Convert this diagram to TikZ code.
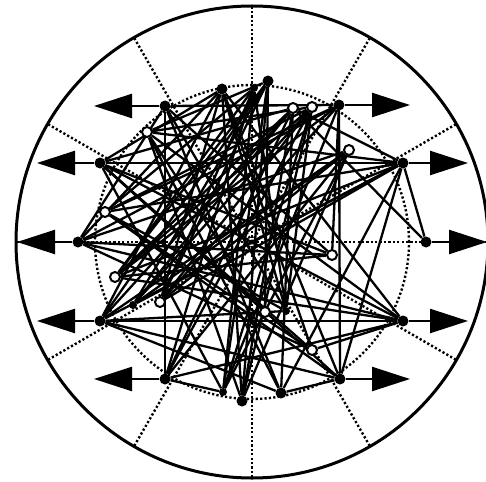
\documentclass[tikz,border=0pt]{standalone}
\usetikzlibrary{arrows.meta,backgrounds}
\begin{document}
\begin{tikzpicture}[x=1pt,y=-1pt,
  edge/.style={line width=2.3pt},
  dotl/.style={line width=2.4pt, dash pattern=on 2.2pt off 2.2pt},
  full/.style={circle, fill=black, inner sep=0pt, minimum size=11pt},
  small/.style={circle, fill=black, inner sep=0pt, minimum size=8pt},
  hollow/.style={circle, draw=black, fill=white, line width=2pt, inner sep=0pt, minimum size=10pt},
  arr/.style={line width=2.4pt, -{Triangle[length=38pt,width=24pt]}}]
\useasboundingbox (0,0) rectangle (486,481);
\coordinate (c) at (252,242);
% filled nodes
\node[full] (a1) at (165,106) {};
\node[full] (a2) at (100,163) {};
\node[full] (a3) at (78,242) {};
\node[full] (a4) at (100,321) {};
\node[full] (a5) at (165,379) {};
\node[full] (b1) at (339,105) {};
\node[full] (b2) at (403,163) {};
\node[full] (b3) at (426,242) {};
\node[full] (b4) at (403,321) {};
\node[full] (b5) at (340,379) {};
\node[full] (t1) at (222,89) {};
\node[full] (t2) at (268,81) {};
\node[small] (t3) at (254,88) {};
\node[small] (d1) at (223,392) {};
\node[full] (d2) at (242,401) {};
\node[full] (d3) at (281,393) {};
\node[small] (n1) at (133,305) {};
\node[small] (n2) at (286,311) {};
% hollow nodes
\node[hollow] (h1) at (147,132) {};
\node[hollow] (h2) at (105,212) {};
\node[hollow] (h3) at (293,108) {};
\node[hollow] (h4) at (312,107) {};
\node[hollow] (h5) at (349,150) {};
\node[hollow] (h6) at (115,277) {};
\node[hollow] (h7) at (160,302) {};
\node[hollow] (h8) at (332,255) {};
\node[hollow] (h9) at (312,350) {};
\node[hollow] (h10) at (265,312) {};
% arrow tips
\coordinate (ta1) at (94,106);
\coordinate (ta2) at (37,163);
\coordinate (ta3) at (17,242);
\coordinate (ta4) at (37,321);
\coordinate (ta5) at (94,379);
\coordinate (tb1) at (410,105);
\coordinate (tb2) at (468,163);
\coordinate (tb3) at (487,242);
\coordinate (tb4) at (468,321);
\coordinate (tb5) at (410,379);
\begin{pgfonlayer}{background}
\draw[line width=3pt] (c) circle (236pt);
\foreach \a in {0,30,...,330} \draw[dotl] (c) -- ++(\a:236pt);
\draw[dotl] (c) circle (157pt);
\foreach \u/\v in {a1/b1,a2/b2,a4/b4,a1/a5,b1/b5,
  b2/h3,b2/b3,b2/b5,b2/d3,b2/h7,b2/h6,b2/h2,
  b4/h1,b4/a2,b4/a3,b4/h6,b4/h9,b4/a5,
  b3/h3,b1/h8,a3/t1,a3/b1,a3/h5,a3/h9,a3/h8,
  a1/h8,a1/d3,a1/a3,t1/a4,t1/d2,t1/a2,
  h1/t2,h1/h4,h1/b2,a4/b2,a4/d3,a4/b5,
  a2/b5,a2/h3,t2/h10,h3/d3,a5/d1,d3/b5,
  h4/a5,h3/a5,t2/a4,t3/d1,t2/d1,h4/d2,h3/n1,t3/h6,h4/h7,h3/h6,
  h5/h7,h5/n1,h5/d1,h2/h4,h2/t3,h2/b5,h2/h9,
  h6/b1,h6/t2,h7/b1,n1/t2,n1/b2,h9/t1,
  h10/a2,h10/h1,d2/h5,d3/h1,b5/t1,h8/a2,h8/h6,
  a2/h9,t1/b4,t3/a5,h4/n1,t2/h7,h3/d2,b1/d1,h5/a4,
  n2/a1,n2/h2,n2/t3,n2/h4,n2/a4,t3/h7,t2/d2,h4/h6,h3/a4,
  t1/n2,h1/d2,a2/d1,h2/b1,h7/t1,a5/h5,d1/h4}
  \draw[edge] (\u) -- (\v);
\foreach \n in {a1,a2,a3,a4,a5,b1,b2,b3,b4,b5}
  \draw[arr] (\n) -- (t\n);
\end{pgfonlayer}
\end{tikzpicture}
\end{document}
